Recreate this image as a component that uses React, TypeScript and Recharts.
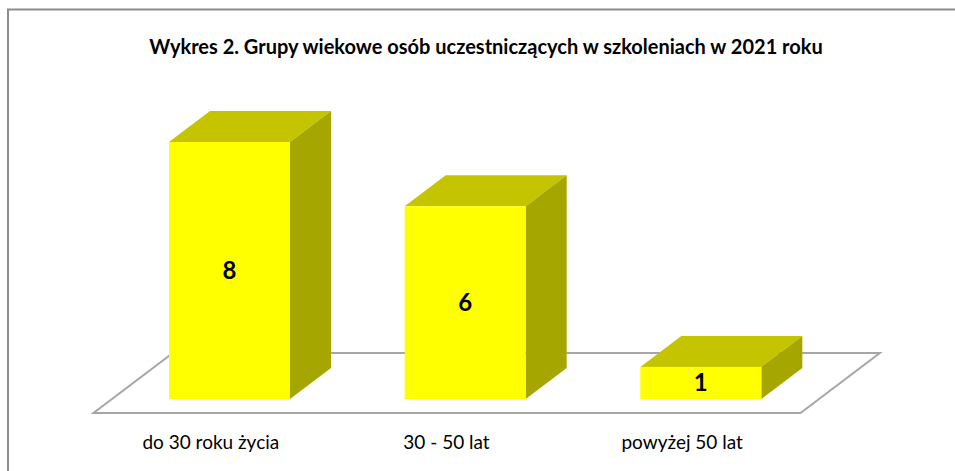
import React from 'react';
import { BarChart, Bar, XAxis, YAxis, LabelList, Customized } from 'recharts';

const categories = ['do 30 roku życia', '30 - 50 lat', 'powyżej 50 lat'];
const values = [8, 6, 1];
const title = 'Wykres 2. Grupy wiekowe osób uczestniczących w szkoleniach w 2021 roku';

const data = categories.map((name, i) => ({ name, value: values[i] }));

const W = 955;
const H = 471;
const AXIS_H = 72;
const margin = { top: 142, right: 136, bottom: 0, left: 112 };
const DX = 41;
const DY = 31;
const FONT = 'Lato, "Open Sans", sans-serif';

const plotLeft = margin.left;
const plotRight = W - margin.right;
const plotBottom = H - AXIS_H;
const slope = DX / DY;

const Bar3D = (props: any) => {
  const { x, y, width, height } = props;
  if (width == null || height == null) return null;
  return (
    <g>
      <polygon
        points={`${x},${y} ${x + DX},${y - DY} ${x + width + DX},${y - DY} ${x + width},${y}`}
        fill="#C4C400"
      />
      <polygon
        points={`${x + width},${y} ${x + width + DX},${y - DY} ${x + width + DX},${y + height - DY} ${x + width},${y + height}`}
        fill="#A6A600"
      />
      <rect x={x} y={y} width={width} height={height} fill="#FFFF00" />
    </g>
  );
};

const Decor = () => {
  const front = 14;
  const back = 46;
  const pts = [
    [plotLeft - front * slope, plotBottom + front],
    [plotRight - front * slope, plotBottom + front],
    [plotRight + back * slope, plotBottom - back],
    [plotLeft + back * slope, plotBottom - back],
  ];
  return (
    <g>
      <path d={`M8,${H} L8,9.5 L${W},9.5`} fill="none" stroke="#8C8C8C" strokeWidth={2} />
      <text
        x={486}
        y={46}
        textAnchor="middle"
        dominantBaseline="central"
        fontFamily={FONT}
        fontWeight="bold"
        fontSize={20}
        fill="#000"
      >
        {title}
      </text>
      <polygon
        points={pts.map((p) => p.join(',')).join(' ')}
        fill="#FFFFFF"
        stroke="#A6A6A6"
        strokeWidth={2}
      />
    </g>
  );
};

const Tick = (props: any) => {
  const { x, y, payload } = props;
  return (
    <text
      x={x - 19}
      y={y + 42}
      textAnchor="middle"
      dominantBaseline="central"
      fontFamily={FONT}
      fontSize={19}
      fill="#000"
    >
      {payload.value}
    </text>
  );
};

export default function App() {
  return (
    <div style={{ position: 'absolute', left: 0, top: 0, width: W, height: H, background: '#fff' }}>
      <BarChart width={W} height={H} data={data} margin={margin} barSize={121}>
        <Customized component={Decor} />
        <XAxis
          dataKey="name"
          height={AXIS_H}
          axisLine={false}
          tickLine={false}
          tickSize={0}
          tickMargin={0}
          tick={<Tick />}
          interval={0}
        />
        <YAxis hide domain={[0, 8]} />
        <Bar dataKey="value" shape={<Bar3D />} isAnimationActive={false}>
          <LabelList
            dataKey="value"
            position="center"
            fill="#000"
            fontFamily={FONT}
            fontWeight="bold"
            fontSize={24}
          />
        </Bar>
      </BarChart>
    </div>
  );
}
